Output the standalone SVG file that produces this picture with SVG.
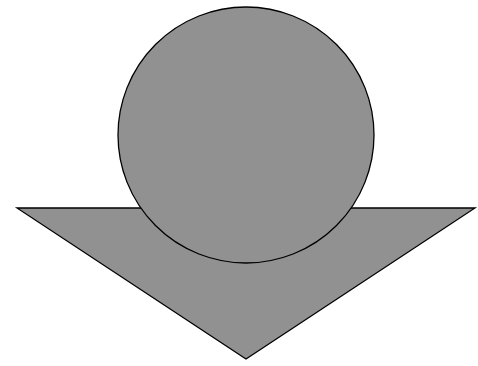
<svg xmlns="http://www.w3.org/2000/svg" width="478" height="366" viewBox="0 0 478 366">
<style>.s{fill:#919191;stroke:#000;stroke-width:1.3}</style>
<rect width="478" height="366" fill="#fff"/>
<g id="triangle"><polygon class="s" points="17,208 475,208 246,359"/></g>
<g id="circle"><circle class="s" cx="246" cy="135" r="128"/></g>
</svg>
